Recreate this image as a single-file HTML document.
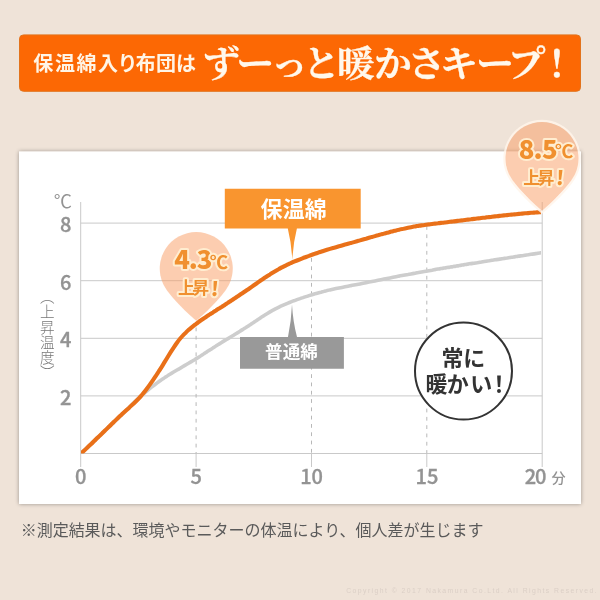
<!DOCTYPE html>
<html lang="ja"><head><meta charset="utf-8"><title>保温綿入り布団は ずーっと暖かさキープ！</title>
<style>
html,body{margin:0;padding:0;background:#efe3d8;}
body{width:600px;height:600px;overflow:hidden;position:relative;}
svg{position:absolute;left:0;top:0;display:block;}
text{white-space:pre;}
</style></head><body>
<svg width="600" height="600" viewBox="0 0 600 600">
<defs>
<filter id="sh" x="-5%" y="-5%" width="110%" height="110%"><feGaussianBlur in="SourceAlpha" stdDeviation="2"/><feComponentTransfer><feFuncA type="linear" slope="0.36"/></feComponentTransfer><feMerge><feMergeNode/><feMergeNode in="SourceGraphic"/></feMerge></filter>
<clipPath id="cp"><rect x="81" y="195" width="461.5" height="258.5"/></clipPath>
</defs>
<rect x="0" y="0" width="600" height="600" fill="#efe3d8"/>
<rect x="19.5" y="34.9" width="561" height="56.4" rx="4" ry="4" fill="#fc6804" stroke="#e2731c" stroke-width="1"/>
<text y="70.70" x="33.15 55.00 76.55 98.00 117.40 135.80 156.00 176.00" font-family='"Liberation Sans","Noto Sans CJK JP",sans-serif' font-weight="700" font-size="20" fill="#fff5e6">保温綿入り布団は</text>
<text y="77.4" transform="scale(1.04 1)" font-family='"Liberation Serif","Noto Serif CJK JP","Noto Serif CJK SC",serif' font-weight="700" font-size="36.4" fill="#fff8ec" stroke="#fff8ec" stroke-width="0.3" x="194.66 227.23 260.11 290.99 324.10 359.56 392.08 422.96 457.76 488.09 517.38">ずーっと暖かさキープ！</text>
<rect x="19" y="151.5" width="562" height="352.5" fill="#ffffff" filter="url(#sh)"/>
<line x1="80.7" y1="453.5" x2="542.2" y2="453.5" stroke="#c9c9c9" stroke-width="1"/>
<line x1="80.7" y1="395.9" x2="542.2" y2="395.9" stroke="#c9c9c9" stroke-width="1"/>
<line x1="80.7" y1="338.3" x2="542.2" y2="338.3" stroke="#c9c9c9" stroke-width="1"/>
<line x1="80.7" y1="280.7" x2="542.2" y2="280.7" stroke="#c9c9c9" stroke-width="1"/>
<line x1="80.7" y1="223.1" x2="542.2" y2="223.1" stroke="#c9c9c9" stroke-width="1"/>
<line x1="80.7" y1="202" x2="80.7" y2="467" stroke="#c9c9c9" stroke-width="1"/>
<line x1="542.2" y1="202" x2="542.2" y2="467" stroke="#c9c9c9" stroke-width="1"/>
<line x1="196.1" y1="327.5" x2="196.1" y2="453.5" stroke="#b8b8b8" stroke-width="1" stroke-dasharray="3.8 4.5"/>
<line x1="196.1" y1="453.5" x2="196.1" y2="467" stroke="#c9c9c9" stroke-width="1"/>
<line x1="311.5" y1="258.0" x2="311.5" y2="453.5" stroke="#b8b8b8" stroke-width="1" stroke-dasharray="3.8 4.5"/>
<line x1="311.5" y1="453.5" x2="311.5" y2="467" stroke="#c9c9c9" stroke-width="1"/>
<line x1="426.8" y1="226.0" x2="426.8" y2="453.5" stroke="#b8b8b8" stroke-width="1" stroke-dasharray="3.8 4.5"/>
<line x1="426.8" y1="453.5" x2="426.8" y2="467" stroke="#c9c9c9" stroke-width="1"/>
<text x="71.4" y="404.7" text-anchor="end" font-family='"Noto Sans CJK JP","Liberation Sans",sans-serif' font-weight="500" font-size="20" fill="#939393" stroke="#939393" stroke-width="0.35">2</text>
<text x="71.4" y="347.1" text-anchor="end" font-family='"Noto Sans CJK JP","Liberation Sans",sans-serif' font-weight="500" font-size="20" fill="#939393" stroke="#939393" stroke-width="0.35">4</text>
<text x="71.4" y="289.5" text-anchor="end" font-family='"Noto Sans CJK JP","Liberation Sans",sans-serif' font-weight="500" font-size="20" fill="#939393" stroke="#939393" stroke-width="0.35">6</text>
<text x="71.4" y="231.9" text-anchor="end" font-family='"Noto Sans CJK JP","Liberation Sans",sans-serif' font-weight="500" font-size="20" fill="#939393" stroke="#939393" stroke-width="0.35">8</text>
<text x="53.80" y="207.82" font-family='"Noto Sans CJK JP","Liberation Sans",sans-serif' font-weight="400" font-style="normal" font-size="18.21" letter-spacing="0.00" fill="#939393" style="white-space:pre;" >℃</text>
<text x="80.8" y="483.8" text-anchor="middle" font-family='"Noto Sans CJK JP","Liberation Sans",sans-serif' font-weight="500" font-size="20" fill="#939393" stroke="#939393" stroke-width="0.35">0</text>
<text x="196.2" y="483.8" text-anchor="middle" font-family='"Noto Sans CJK JP","Liberation Sans",sans-serif' font-weight="500" font-size="20" fill="#939393" stroke="#939393" stroke-width="0.35">5</text>
<text x="311.6" y="483.8" text-anchor="middle" font-family='"Noto Sans CJK JP","Liberation Sans",sans-serif' font-weight="500" font-size="20" fill="#939393" stroke="#939393" stroke-width="0.35">10</text>
<text x="426.9" y="483.8" text-anchor="middle" font-family='"Noto Sans CJK JP","Liberation Sans",sans-serif' font-weight="500" font-size="20" fill="#939393" stroke="#939393" stroke-width="0.35">15</text>
<text x="524.70" y="483.80" font-family='"Noto Sans CJK JP","Liberation Sans",sans-serif' font-weight="500" font-style="normal" font-size="20.00" letter-spacing="-1.00" fill="#939393" style="white-space:pre;" stroke="#939393" stroke-width="0.35">20</text>
<text x="551.51" y="483.23" font-family='"Liberation Sans","Noto Sans CJK JP",sans-serif' font-weight="500" font-style="normal" font-size="14.13" letter-spacing="0.00" fill="#939393" style="white-space:pre;" >分</text>
<text x="45.7" y="289.4" font-family='"Liberation Sans","Noto Sans CJK JP",sans-serif' font-weight="300" font-size="14.6" fill="#777777" style="writing-mode:vertical-rl;" letter-spacing="0.6">（上昇温度）</text>
<path d="M196.25,320.75 C185.64,311.62 168.24,294.80 163.17,283.93 A36.50,36.50 0 1 1 229.33,283.93 C224.26,294.80 206.86,311.62 196.25,320.75 Z" fill="#f99b61" fill-opacity="0.5"/>
<g clip-path="url(#cp)">
<path d="M81.0,453.5 C81.5,453.0 83.0,451.6 84.0,450.6 C85.0,449.7 86.0,448.7 87.0,447.8 C88.0,446.8 89.0,445.9 90.0,445.0 C91.0,444.0 92.0,443.1 93.0,442.1 C94.0,441.2 95.0,440.2 96.0,439.3 C97.0,438.3 98.0,437.4 99.0,436.4 C100.0,435.5 101.0,434.5 102.0,433.6 C103.0,432.6 104.0,431.7 105.0,430.7 C106.0,429.7 107.0,428.8 108.0,427.8 C109.0,426.9 110.0,425.9 111.0,425.0 C112.0,424.0 113.0,423.0 114.0,422.1 C115.0,421.1 116.0,420.1 117.0,419.2 C118.0,418.2 119.0,417.2 120.0,416.3 C121.0,415.3 122.0,414.3 123.0,413.4 C124.0,412.4 125.0,411.4 126.0,410.4 C127.0,409.4 128.0,408.5 129.0,407.5 C130.0,406.5 131.0,405.5 132.0,404.6 C133.0,403.6 134.0,402.6 135.0,401.7 C136.0,400.7 137.0,399.8 138.0,398.8 C139.0,397.9 140.0,397.0 141.0,396.1 C142.0,395.2 143.0,394.3 144.0,393.4 C145.0,392.5 146.0,391.7 147.0,390.8 C148.0,390.0 149.0,389.2 150.0,388.4 C151.0,387.6 152.0,386.8 153.0,386.0 C154.0,385.2 155.0,384.4 156.0,383.7 C157.0,383.0 158.0,382.2 159.0,381.5 C160.0,380.8 161.0,380.1 162.0,379.4 C163.0,378.7 164.0,378.1 165.0,377.4 C166.0,376.8 167.0,376.1 168.0,375.5 C169.0,374.9 170.0,374.2 171.0,373.6 C172.0,373.0 173.0,372.4 174.0,371.8 C175.0,371.2 176.0,370.6 177.0,370.0 C178.0,369.4 179.0,368.8 180.0,368.3 C181.0,367.7 182.0,367.1 183.0,366.5 C184.0,365.9 185.0,365.4 186.0,364.8 C187.0,364.2 188.0,363.6 189.0,363.0 C190.0,362.4 191.0,361.9 192.0,361.3 C193.0,360.7 194.0,360.1 195.0,359.5 C196.0,358.8 197.0,358.2 198.0,357.6 C199.0,357.0 200.0,356.3 201.0,355.7 C202.0,355.1 203.0,354.4 204.0,353.8 C205.0,353.1 206.0,352.5 207.0,351.8 C208.0,351.2 209.0,350.5 210.0,349.9 C211.0,349.2 212.0,348.6 213.0,347.9 C214.0,347.3 215.0,346.6 216.0,346.0 C217.0,345.4 218.0,344.7 219.0,344.1 C220.0,343.5 221.0,342.9 222.0,342.3 C223.0,341.6 224.0,341.0 225.0,340.4 C226.0,339.8 227.0,339.2 228.0,338.6 C229.0,338.0 230.0,337.4 231.0,336.8 C232.0,336.2 233.0,335.6 234.0,335.0 C235.0,334.4 236.0,333.7 237.0,333.1 C238.0,332.5 239.0,331.9 240.0,331.3 C241.0,330.6 242.0,330.0 243.0,329.4 C244.0,328.7 245.0,328.1 246.0,327.5 C247.0,326.8 248.0,326.2 249.0,325.5 C250.0,324.9 251.0,324.2 252.0,323.5 C253.0,322.9 254.0,322.2 255.0,321.5 C256.0,320.9 257.0,320.2 258.0,319.5 C259.0,318.9 260.0,318.2 261.0,317.5 C262.0,316.9 263.0,316.2 264.0,315.6 C265.0,314.9 266.0,314.3 267.0,313.7 C268.0,313.1 269.0,312.5 270.0,311.9 C271.0,311.3 272.0,310.7 273.0,310.2 C274.0,309.7 275.0,309.1 276.0,308.6 C277.0,308.1 278.0,307.6 279.0,307.1 C280.0,306.6 281.0,306.1 282.0,305.7 C283.0,305.2 284.0,304.8 285.0,304.4 C286.0,303.9 287.0,303.5 288.0,303.1 C289.0,302.7 290.0,302.3 291.0,301.9 C292.0,301.5 293.0,301.1 294.0,300.7 C295.0,300.4 296.0,300.0 297.0,299.6 C298.0,299.3 299.0,298.9 300.0,298.6 C301.0,298.2 302.0,297.9 303.0,297.6 C304.0,297.2 305.0,296.9 306.0,296.6 C307.0,296.3 308.0,296.0 309.0,295.6 C310.0,295.3 311.0,295.0 312.0,294.7 C313.0,294.4 314.0,294.1 315.0,293.8 C316.0,293.6 317.0,293.3 318.0,293.0 C319.0,292.7 320.0,292.4 321.0,292.2 C322.0,291.9 323.0,291.7 324.0,291.4 C325.0,291.1 326.0,290.9 327.0,290.6 C328.0,290.4 329.0,290.2 330.0,289.9 C331.0,289.7 332.0,289.5 333.0,289.2 C334.0,289.0 335.0,288.8 336.0,288.6 C337.0,288.4 338.0,288.2 339.0,288.0 C340.0,287.8 341.0,287.6 342.0,287.4 C343.0,287.2 344.0,287.0 345.0,286.8 C346.0,286.6 347.0,286.4 348.0,286.2 C349.0,286.0 350.0,285.8 351.0,285.6 C352.0,285.5 353.0,285.3 354.0,285.1 C355.0,284.9 356.0,284.7 357.0,284.5 C358.0,284.3 359.0,284.1 360.0,283.9 C361.0,283.7 362.0,283.5 363.0,283.3 C364.0,283.1 365.0,282.9 366.0,282.7 C367.0,282.5 368.0,282.3 369.0,282.1 C370.0,281.9 371.0,281.7 372.0,281.5 C373.0,281.3 374.0,281.1 375.0,280.9 C376.0,280.7 377.0,280.5 378.0,280.3 C379.0,280.1 380.0,279.9 381.0,279.7 C382.0,279.5 383.0,279.3 384.0,279.1 C385.0,278.9 386.0,278.7 387.0,278.5 C388.0,278.3 389.0,278.1 390.0,277.9 C391.0,277.7 392.0,277.5 393.0,277.3 C394.0,277.1 395.0,276.9 396.0,276.7 C397.0,276.5 398.0,276.3 399.0,276.1 C400.0,276.0 401.0,275.8 402.0,275.6 C403.0,275.4 404.0,275.2 405.0,275.0 C406.0,274.8 407.0,274.6 408.0,274.5 C409.0,274.3 410.0,274.1 411.0,273.9 C412.0,273.7 413.0,273.5 414.0,273.4 C415.0,273.2 416.0,273.0 417.0,272.8 C418.0,272.6 419.0,272.5 420.0,272.3 C421.0,272.1 422.0,271.9 423.0,271.7 C424.0,271.6 425.0,271.4 426.0,271.2 C427.0,271.0 428.0,270.9 429.0,270.7 C430.0,270.5 431.0,270.3 432.0,270.2 C433.0,270.0 434.0,269.8 435.0,269.6 C436.0,269.5 437.0,269.3 438.0,269.1 C439.0,268.9 440.0,268.8 441.0,268.6 C442.0,268.4 443.0,268.3 444.0,268.1 C445.0,267.9 446.0,267.8 447.0,267.6 C448.0,267.4 449.0,267.2 450.0,267.1 C451.0,266.9 452.0,266.7 453.0,266.6 C454.0,266.4 455.0,266.2 456.0,266.1 C457.0,265.9 458.0,265.7 459.0,265.6 C460.0,265.4 461.0,265.3 462.0,265.1 C463.0,264.9 464.0,264.8 465.0,264.6 C466.0,264.4 467.0,264.3 468.0,264.1 C469.0,264.0 470.0,263.8 471.0,263.6 C472.0,263.5 473.0,263.3 474.0,263.2 C475.0,263.0 476.0,262.8 477.0,262.7 C478.0,262.5 479.0,262.4 480.0,262.2 C481.0,262.0 482.0,261.9 483.0,261.7 C484.0,261.6 485.0,261.4 486.0,261.2 C487.0,261.1 488.0,260.9 489.0,260.8 C490.0,260.6 491.0,260.5 492.0,260.3 C493.0,260.1 494.0,260.0 495.0,259.8 C496.0,259.7 497.0,259.5 498.0,259.4 C499.0,259.2 500.0,259.1 501.0,258.9 C502.0,258.8 503.0,258.6 504.0,258.4 C505.0,258.3 506.0,258.1 507.0,258.0 C508.0,257.8 509.0,257.7 510.0,257.5 C511.0,257.4 512.0,257.2 513.0,257.1 C514.0,256.9 515.0,256.8 516.0,256.6 C517.0,256.4 518.0,256.3 519.0,256.1 C520.0,256.0 521.0,255.8 522.0,255.7 C523.0,255.5 524.0,255.4 525.0,255.2 C526.0,255.1 527.0,254.9 528.0,254.8 C529.0,254.6 530.0,254.5 531.0,254.3 C532.0,254.2 533.0,254.0 534.0,253.9 C535.0,253.7 536.0,253.6 537.0,253.4 C538.0,253.3 539.3,253.1 540.0,253.0 C540.7,252.9 540.8,252.8 541.0,252.8" fill="none" stroke="#cdcdcd" stroke-width="3.6"/>
<path d="M81.0,453.5 C81.5,453.0 83.0,451.6 84.0,450.7 C85.0,449.8 86.0,448.9 87.0,447.9 C88.0,447.0 89.0,446.0 90.0,445.1 C91.0,444.1 92.0,443.2 93.0,442.2 C94.0,441.2 95.0,440.3 96.0,439.3 C97.0,438.3 98.0,437.4 99.0,436.4 C100.0,435.4 101.0,434.4 102.0,433.5 C103.0,432.5 104.0,431.5 105.0,430.5 C106.0,429.6 107.0,428.6 108.0,427.6 C109.0,426.6 110.0,425.7 111.0,424.7 C112.0,423.7 113.0,422.8 114.0,421.8 C115.0,420.9 116.0,419.9 117.0,418.9 C118.0,418.0 119.0,417.0 120.0,416.1 C121.0,415.2 122.0,414.2 123.0,413.3 C124.0,412.4 125.0,411.5 126.0,410.6 C127.0,409.7 128.0,408.8 129.0,407.9 C130.0,406.9 131.0,406.0 132.0,405.1 C133.0,404.2 134.0,403.3 135.0,402.3 C136.0,401.3 137.0,400.3 138.0,399.3 C139.0,398.2 140.0,397.1 141.0,396.0 C142.0,394.8 143.0,393.6 144.0,392.4 C145.0,391.2 146.0,389.9 147.0,388.5 C148.0,387.2 149.0,385.8 150.0,384.4 C151.0,383.0 152.0,381.6 153.0,380.1 C154.0,378.7 155.0,377.2 156.0,375.7 C157.0,374.1 158.0,372.6 159.0,371.0 C160.0,369.5 161.0,367.9 162.0,366.3 C163.0,364.7 164.0,363.0 165.0,361.4 C166.0,359.8 167.0,358.2 168.0,356.5 C169.0,354.9 170.0,353.3 171.0,351.7 C172.0,350.1 173.0,348.6 174.0,347.1 C175.0,345.6 176.0,344.1 177.0,342.7 C178.0,341.3 179.0,340.0 180.0,338.8 C181.0,337.6 182.0,336.4 183.0,335.4 C184.0,334.3 185.0,333.3 186.0,332.4 C187.0,331.4 188.0,330.5 189.0,329.6 C190.0,328.8 191.0,327.9 192.0,327.1 C193.0,326.3 194.0,325.5 195.0,324.7 C196.0,324.0 197.0,323.2 198.0,322.5 C199.0,321.7 200.0,321.0 201.0,320.3 C202.0,319.6 203.0,318.9 204.0,318.2 C205.0,317.6 206.0,316.9 207.0,316.2 C208.0,315.6 209.0,314.9 210.0,314.3 C211.0,313.6 212.0,313.0 213.0,312.4 C214.0,311.7 215.0,311.1 216.0,310.5 C217.0,309.8 218.0,309.2 219.0,308.6 C220.0,307.9 221.0,307.3 222.0,306.7 C223.0,306.0 224.0,305.4 225.0,304.7 C226.0,304.1 227.0,303.4 228.0,302.8 C229.0,302.1 230.0,301.5 231.0,300.8 C232.0,300.2 233.0,299.5 234.0,298.8 C235.0,298.2 236.0,297.5 237.0,296.8 C238.0,296.2 239.0,295.5 240.0,294.8 C241.0,294.1 242.0,293.5 243.0,292.8 C244.0,292.1 245.0,291.4 246.0,290.7 C247.0,290.0 248.0,289.4 249.0,288.7 C250.0,288.0 251.0,287.3 252.0,286.6 C253.0,285.9 254.0,285.2 255.0,284.5 C256.0,283.8 257.0,283.1 258.0,282.4 C259.0,281.7 260.0,281.0 261.0,280.3 C262.0,279.7 263.0,279.0 264.0,278.3 C265.0,277.6 266.0,277.0 267.0,276.3 C268.0,275.6 269.0,275.0 270.0,274.4 C271.0,273.7 272.0,273.1 273.0,272.5 C274.0,271.9 275.0,271.3 276.0,270.7 C277.0,270.1 278.0,269.5 279.0,269.0 C280.0,268.4 281.0,267.9 282.0,267.3 C283.0,266.8 284.0,266.3 285.0,265.8 C286.0,265.3 287.0,264.9 288.0,264.4 C289.0,263.9 290.0,263.5 291.0,263.0 C292.0,262.6 293.0,262.2 294.0,261.7 C295.0,261.3 296.0,260.9 297.0,260.5 C298.0,260.1 299.0,259.7 300.0,259.3 C301.0,258.9 302.0,258.5 303.0,258.1 C304.0,257.7 305.0,257.4 306.0,257.0 C307.0,256.6 308.0,256.2 309.0,255.9 C310.0,255.5 311.0,255.1 312.0,254.8 C313.0,254.4 314.0,254.1 315.0,253.7 C316.0,253.4 317.0,253.0 318.0,252.7 C319.0,252.3 320.0,252.0 321.0,251.7 C322.0,251.4 323.0,251.0 324.0,250.7 C325.0,250.4 326.0,250.1 327.0,249.8 C328.0,249.5 329.0,249.2 330.0,248.9 C331.0,248.6 332.0,248.3 333.0,248.0 C334.0,247.8 335.0,247.5 336.0,247.2 C337.0,246.9 338.0,246.6 339.0,246.3 C340.0,246.1 341.0,245.8 342.0,245.5 C343.0,245.2 344.0,244.9 345.0,244.6 C346.0,244.4 347.0,244.1 348.0,243.8 C349.0,243.5 350.0,243.2 351.0,242.9 C352.0,242.7 353.0,242.4 354.0,242.1 C355.0,241.8 356.0,241.5 357.0,241.2 C358.0,240.9 359.0,240.7 360.0,240.4 C361.0,240.1 362.0,239.8 363.0,239.5 C364.0,239.2 365.0,238.9 366.0,238.7 C367.0,238.4 368.0,238.1 369.0,237.8 C370.0,237.5 371.0,237.2 372.0,236.9 C373.0,236.7 374.0,236.4 375.0,236.1 C376.0,235.8 377.0,235.5 378.0,235.3 C379.0,235.0 380.0,234.7 381.0,234.4 C382.0,234.1 383.0,233.9 384.0,233.6 C385.0,233.3 386.0,233.1 387.0,232.8 C388.0,232.5 389.0,232.3 390.0,232.0 C391.0,231.7 392.0,231.5 393.0,231.2 C394.0,231.0 395.0,230.7 396.0,230.5 C397.0,230.2 398.0,230.0 399.0,229.8 C400.0,229.5 401.0,229.3 402.0,229.1 C403.0,228.8 404.0,228.6 405.0,228.4 C406.0,228.2 407.0,228.0 408.0,227.8 C409.0,227.6 410.0,227.4 411.0,227.2 C412.0,227.0 413.0,226.8 414.0,226.6 C415.0,226.4 416.0,226.3 417.0,226.1 C418.0,225.9 419.0,225.8 420.0,225.6 C421.0,225.5 422.0,225.3 423.0,225.2 C424.0,225.0 425.0,224.9 426.0,224.7 C427.0,224.6 428.0,224.5 429.0,224.4 C430.0,224.2 431.0,224.1 432.0,224.0 C433.0,223.9 434.0,223.7 435.0,223.6 C436.0,223.5 437.0,223.4 438.0,223.3 C439.0,223.1 440.0,223.0 441.0,222.9 C442.0,222.8 443.0,222.7 444.0,222.6 C445.0,222.4 446.0,222.3 447.0,222.2 C448.0,222.1 449.0,221.9 450.0,221.8 C451.0,221.7 452.0,221.6 453.0,221.5 C454.0,221.3 455.0,221.2 456.0,221.1 C457.0,221.0 458.0,220.8 459.0,220.7 C460.0,220.6 461.0,220.5 462.0,220.4 C463.0,220.2 464.0,220.1 465.0,220.0 C466.0,219.9 467.0,219.7 468.0,219.6 C469.0,219.5 470.0,219.4 471.0,219.3 C472.0,219.1 473.0,219.0 474.0,218.9 C475.0,218.8 476.0,218.6 477.0,218.5 C478.0,218.4 479.0,218.3 480.0,218.2 C481.0,218.0 482.0,217.9 483.0,217.8 C484.0,217.7 485.0,217.6 486.0,217.4 C487.0,217.3 488.0,217.2 489.0,217.1 C490.0,217.0 491.0,216.9 492.0,216.7 C493.0,216.6 494.0,216.5 495.0,216.4 C496.0,216.3 497.0,216.2 498.0,216.1 C499.0,216.0 500.0,215.8 501.0,215.7 C502.0,215.6 503.0,215.5 504.0,215.4 C505.0,215.3 506.0,215.2 507.0,215.1 C508.0,215.0 509.0,214.9 510.0,214.8 C511.0,214.7 512.0,214.6 513.0,214.5 C514.0,214.4 515.0,214.3 516.0,214.2 C517.0,214.1 518.0,214.0 519.0,213.9 C520.0,213.8 521.0,213.7 522.0,213.6 C523.0,213.5 524.0,213.4 525.0,213.3 C526.0,213.3 527.0,213.2 528.0,213.1 C529.0,213.0 530.0,212.9 531.0,212.8 C532.0,212.8 533.0,212.7 534.0,212.6 C535.0,212.5 536.0,212.5 537.0,212.4 C538.0,212.3 539.3,212.2 540.0,212.2 C540.7,212.1 540.8,212.1 541.0,212.1" fill="none" stroke="#e97019" stroke-width="4.1"/>
</g>
<path d="M224.8,188.7 H360.7 V228.5 H296.9 Q293.2,243 292.3,260 Q291.4,243 287.8,228.5 H224.8 Z" fill="#f9952f"/>
<text x="260.56" y="217.33" font-family='"Liberation Sans","Noto Sans CJK JP",sans-serif' font-weight="700" font-style="normal" font-size="21.91" letter-spacing="0.24" fill="#ffffff" style="white-space:pre;" >保温綿</text>
<path d="M240,337 H288 Q291.2,322 292,304.5 Q293,322 297,337 H343.9 V368.7 H240 Z" fill="#999999"/>
<text x="265.00" y="358.42" font-family='"Liberation Sans","Noto Sans CJK JP",sans-serif' font-weight="700" font-style="normal" font-size="17.58" letter-spacing="0.07" fill="#ffffff" style="white-space:pre;" >普通綿</text>
<circle cx="463.5" cy="371.1" r="48.5" fill="#ffffff" stroke="#333333" stroke-width="2"/>
<text y="365.77" x="441.62 463.26" font-family='"Liberation Sans","Noto Sans CJK JP",sans-serif' font-weight="700" font-size="22" fill="#333333">常に</text>
<text y="391.80" x="425.55 446.81 470.32 488.12" font-family='"Liberation Sans","Noto Sans CJK JP",sans-serif' font-weight="700" font-size="22" fill="#333333">暖かい！</text>
<path d="M542.00,212.40 C530.63,202.62 513.21,185.72 507.92,174.39 A37.60,37.60 0 1 1 576.08,174.39 C570.79,185.72 553.37,202.62 542.00,212.40 Z" fill="none" stroke="#fff4ea" stroke-opacity="0.85" stroke-width="2.2" stroke-linejoin="round"/>
<path d="M542.00,210.75 C531.39,201.62 513.99,184.80 508.92,173.93 A36.50,36.50 0 1 1 575.08,173.93 C570.01,184.80 552.61,201.62 542.00,210.75 Z" fill="#f99b61" fill-opacity="0.5"/>
<text x="174.24" y="268.94" font-family='"Noto Sans CJK JP","Liberation Sans",sans-serif' font-weight="900" font-style="normal" font-size="25.73" letter-spacing="-1.10" fill="#f0902f" style="white-space:pre;" stroke="#ffedd0" stroke-width="4" stroke-linejoin="round" paint-order="stroke fill">4.3</text>
<text x="209.68" y="268.83" font-family='"Noto Sans CJK JP","Liberation Sans",sans-serif' font-weight="700" font-style="normal" font-size="18.25" letter-spacing="0.00" fill="#f0902f" style="white-space:pre;" stroke="#ffedd0" stroke-width="4" stroke-linejoin="round" paint-order="stroke fill">℃</text>
<text x="178.12" y="294.48" font-family='"Liberation Sans","Noto Sans CJK JP",sans-serif' font-weight="700" font-style="normal" font-size="16.88" letter-spacing="-2.61" fill="#f0902f" style="white-space:pre;" stroke="#ffedd0" stroke-width="4" stroke-linejoin="round" paint-order="stroke fill">上昇</text>
<text x="0.00" y="0.00" font-family='"Noto Sans CJK JP","Liberation Sans",sans-serif' font-weight="900" font-style="normal" font-size="19.49" letter-spacing="0.00" fill="#f0902f" style="white-space:pre;" stroke="#ffedd0" stroke-width="4" stroke-linejoin="round" paint-order="stroke fill" transform="translate(210.60 295.81) skewX(-4)">!</text>
<text x="518.66" y="158.54" font-family='"Noto Sans CJK JP","Liberation Sans",sans-serif' font-weight="900" font-style="normal" font-size="25.73" letter-spacing="-0.71" fill="#f0902f" style="white-space:pre;" stroke="#ffedd0" stroke-width="4" stroke-linejoin="round" paint-order="stroke fill">8.5</text>
<text x="554.88" y="158.43" font-family='"Noto Sans CJK JP","Liberation Sans",sans-serif' font-weight="700" font-style="normal" font-size="18.25" letter-spacing="0.00" fill="#f0902f" style="white-space:pre;" stroke="#ffedd0" stroke-width="4" stroke-linejoin="round" paint-order="stroke fill">℃</text>
<text x="523.32" y="184.08" font-family='"Liberation Sans","Noto Sans CJK JP",sans-serif' font-weight="700" font-style="normal" font-size="16.88" letter-spacing="-2.61" fill="#f0902f" style="white-space:pre;" stroke="#ffedd0" stroke-width="4" stroke-linejoin="round" paint-order="stroke fill">上昇</text>
<text x="0.00" y="0.00" font-family='"Noto Sans CJK JP","Liberation Sans",sans-serif' font-weight="900" font-style="normal" font-size="19.49" letter-spacing="0.00" fill="#f0902f" style="white-space:pre;" stroke="#ffedd0" stroke-width="4" stroke-linejoin="round" paint-order="stroke fill" transform="translate(555.80 185.41) skewX(-4)">!</text>
<text x="20.66" y="536.44" font-family='"Liberation Sans","Noto Sans CJK JP",sans-serif' font-weight="400" font-style="normal" font-size="16.00" letter-spacing="-0.01" fill="#5a5a5a" style="white-space:pre;font-feature-settings:"palt";" >※測定結果は、環境やモニターの体温により、個人差が生じます</text>
<text x="346.19" y="592.75" font-family='"Liberation Sans",sans-serif' font-weight="400" font-style="normal" font-size="6.80" letter-spacing="1.46" fill="#dbcfc6" style="white-space:pre;" >Copyright © 2017 Nakamura Co.Ltd. All Rights Reserved.</text>
</svg>
</body></html>
